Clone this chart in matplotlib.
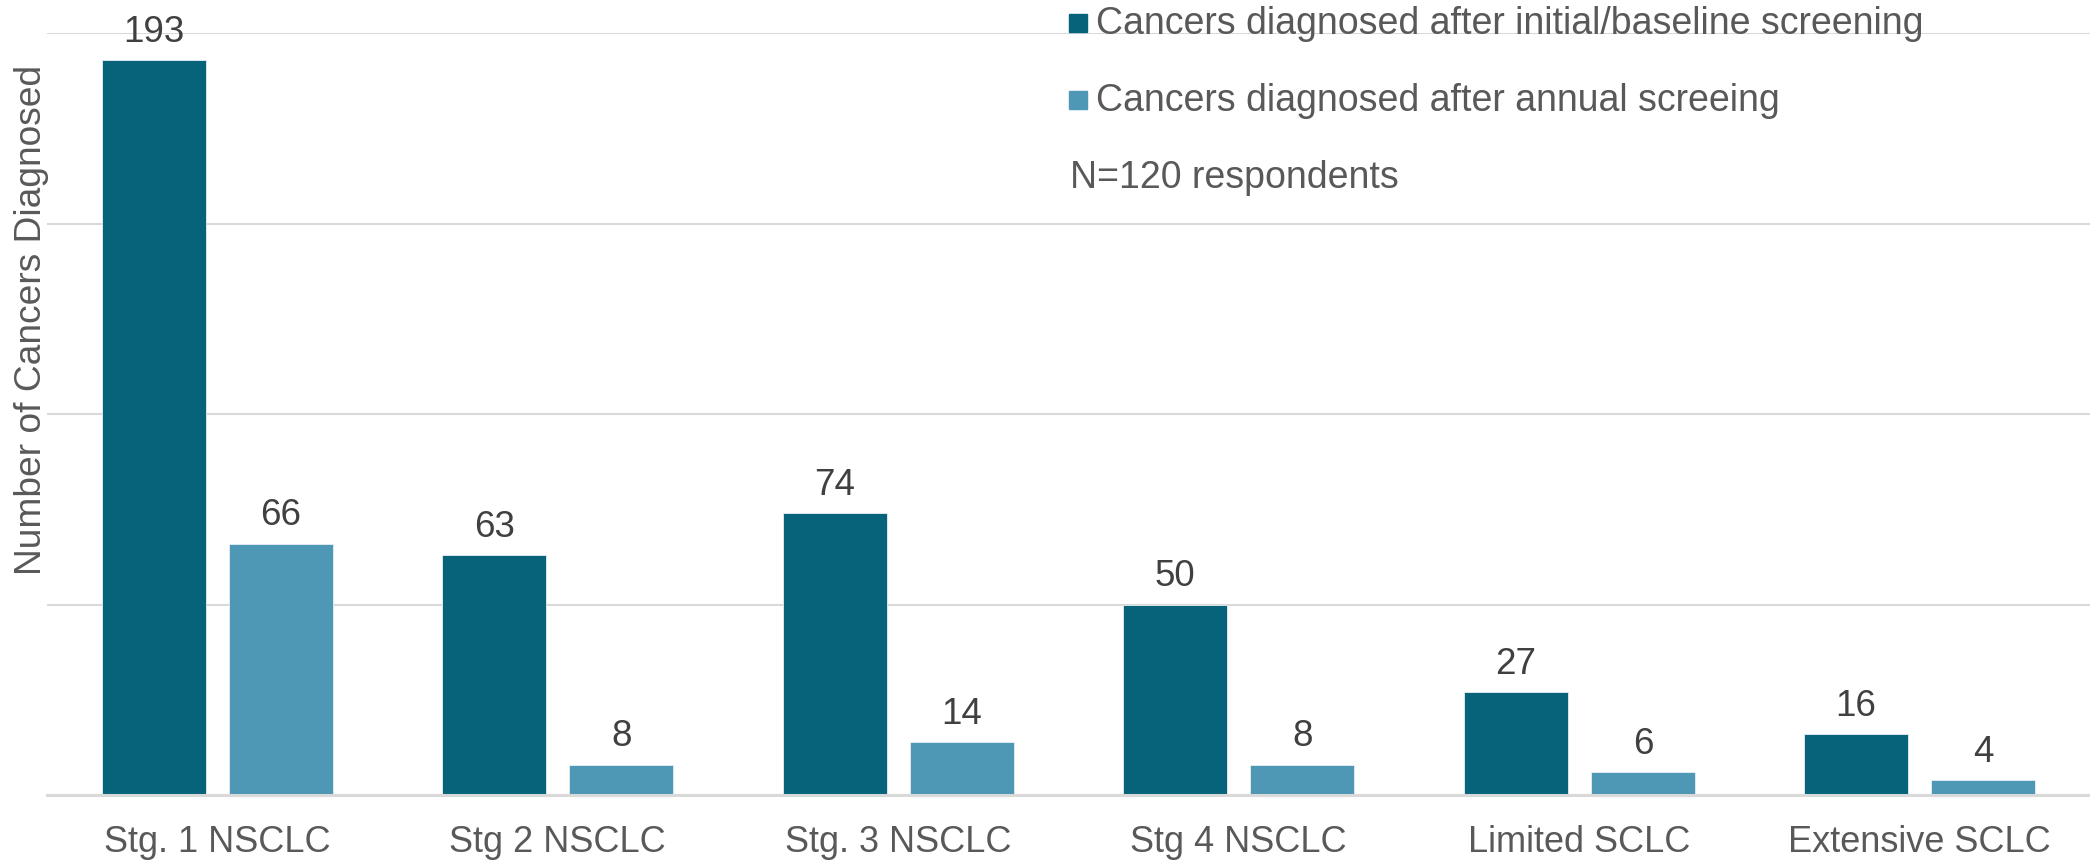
import matplotlib
matplotlib.use("Agg")
import matplotlib.pyplot as plt
from matplotlib.patches import Rectangle
import numpy as np

categories = ["Stg. 1 NSCLC", "Stg 2 NSCLC", "Stg. 3 NSCLC", "Stg 4 NSCLC", "Limited SCLC", "Extensive SCLC"]
baseline_vals = [193, 63, 74, 50, 27, 16]
annual_vals = [66, 8, 14, 8, 6, 4]
series_names = ["Cancers diagnosed after initial/baseline screening",
                "Cancers diagnosed after annual screeing"]
note_text = "N=120 respondents"
y_label = "Number of Cancers Diagnosed"

dark = "#06637A"
light = "#4E97B5"
grid_c = "#D9D9D9"
txt_c = "#595959"
num_c = "#404040"

plt.rcParams['font.family'] = ['Liberation Sans', 'DejaVu Sans']
W, H = 2090, 862
fig = plt.figure(figsize=(W / 100, H / 100), dpi=100)
ax = fig.add_axes([47 / W, 1 - 796 / H, (W - 47) / W, (796 - 34) / H])

x = np.arange(len(categories))
bw = 0.305
off = 0.187
b1 = ax.bar(x - off, baseline_vals, bw, color=dark, edgecolor="#e8f0f3", linewidth=0.6, zorder=3)
b2 = ax.bar(x + off, annual_vals, bw, color=light, edgecolor="#e8f0f3", linewidth=0.6, zorder=3)

fs = 26
for bars, vals in ((b1, baseline_vals), (b2, annual_vals)):
    for r, v in zip(bars, vals):
        ax.annotate(str(v), (r.get_x() + r.get_width() / 2, r.get_height()),
                    xytext=(0, 8), textcoords="offset points",
                    ha="center", va="bottom", fontsize=26.5, color=num_c)

ax.set_xlim(-0.5, len(categories) - 0.5)
ax.set_ylim(0, 200)
ax.set_yticks([0, 50, 100, 150, 200])
ax.yaxis.grid(True, color=grid_c, linewidth=1.5, zorder=0)
ax.set_yticklabels([])
ax.tick_params(axis="y", length=0)
ax.set_xticks(x)
ax.set_xticklabels(categories, fontsize=fs, color=txt_c)
ax.tick_params(axis="x", length=0, pad=21)
for s in ("top", "right", "left"):
    ax.spines[s].set_visible(False)
ax.spines["bottom"].set_color(grid_c)
ax.spines["bottom"].set_linewidth(2.2)
ax.spines["bottom"].set_zorder(4)

ax.set_ylabel(y_label, fontsize=26.7, color=txt_c)
ax.yaxis.set_label_coords(0.001, 0.625)

# legend (manual)
rows_y = [24, 101, 178]
for yy, col, name in zip(rows_y[:2], [dark, light], series_names):
    fig.patches.append(Rectangle((1069 / W, 1 - (yy + 9) / H), 18 / W, 18 / H,
                                 transform=fig.transFigure, color=col, figure=fig))
    fig.text(1096 / W, 1 - yy / H, name, fontsize=27, color=txt_c, va="center", ha="left")
fig.text(1070 / W, 1 - rows_y[2] / H, note_text, fontsize=27, color=txt_c, va="center", ha="left")

fig.savefig("out.png", dpi=100)
